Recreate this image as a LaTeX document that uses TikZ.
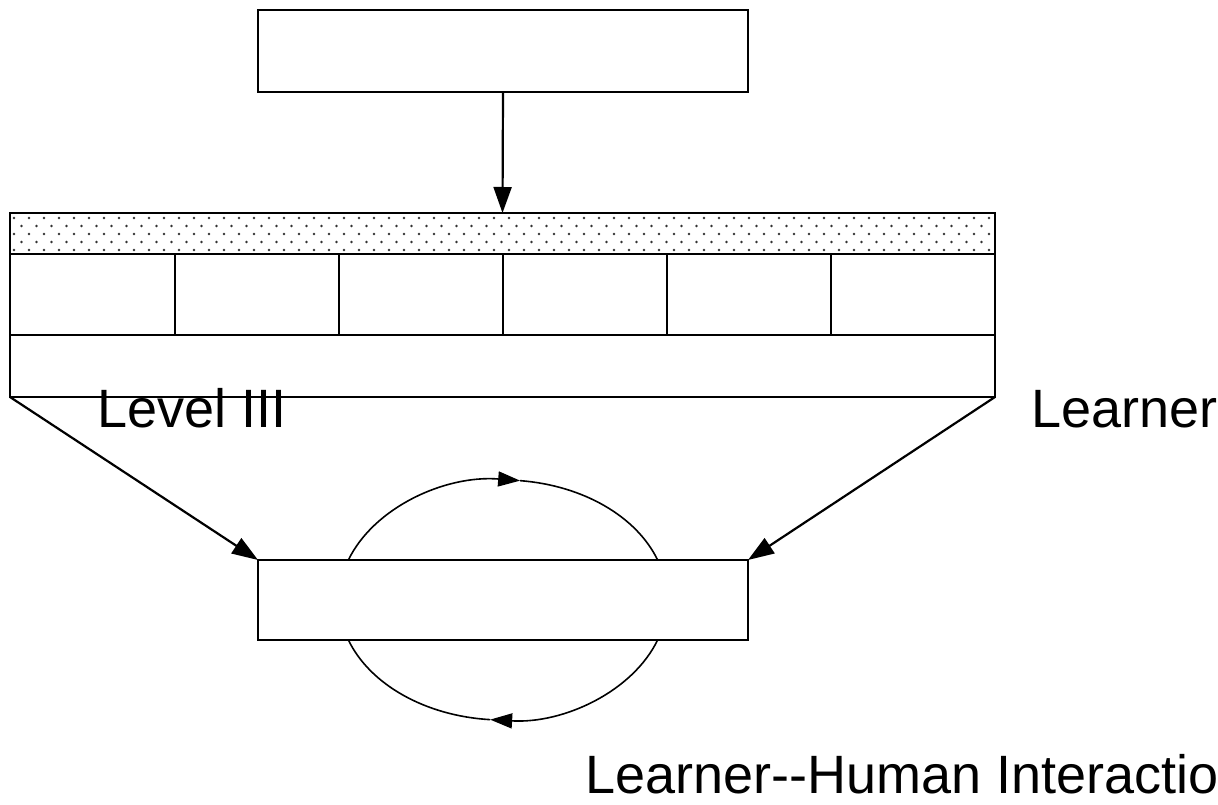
\documentclass[tikz,border=0pt]{standalone}
\usepackage{fontspec}
\setmainfont{Liberation Sans}[Ligatures=TeXOff]
\usetikzlibrary{arrows.meta}
\begin{document}
\begin{tikzpicture}[x=1pt,y=1pt,
  box/.style={draw=black,line width=2.8pt,fill=white,inner sep=0pt,outer sep=0pt},
  conn/.style={line width=2.2pt,-{Triangle[length=26pt,width=18pt]}},
  loop/.style={line width=1.6pt},
  looptip/.style={line width=1.6pt,-{Triangle[length=22pt,width=15pt]}},
  lbl/.style={font=\fontsize{54}{60}\selectfont,inner sep=0pt,anchor=base west}]
\useasboundingbox (0,0) rectangle (1218,804);
\clip (0,0) rectangle (1218,804);
\fill[white] (0,0) rectangle (1218,804);
% top box
\node[box,minimum width=490pt,minimum height=82pt] (top) at (503,753) {};
% dotted band
\node[box,minimum width=985pt,minimum height=41pt,anchor=north west] (band) at (10,591) {};
\begin{scope}
  \clip (10,550) rectangle (995,591);
  \foreach \r in {0,...,5} {
    \pgfmathsetmacro{\yy}{554+8*\r}
    \pgfmathsetmacro{\off}{mod(\r,2)*7.5}
    \foreach \c in {0,...,66} {
      \fill[black!80] (14+\off+15*\c,\yy) circle (1.3pt);
    }
  }
\end{scope}
\draw[line width=2.8pt] (band.north west) rectangle (band.south east);
% cells
\foreach \i [count=\k] in {10,175,339,503,667,831} {
  \pgfmathsetmacro{\w}{(\k==1)?165:164}
  \node[box,minimum width=\w pt,minimum height=81pt,anchor=north west] (c\k) at (\i,550) {};
}
% bottom row
\node[box,minimum width=985pt,minimum height=62pt,anchor=north west] (row) at (10,469) {};
% bottom box
\node[box,minimum width=490pt,minimum height=80pt] (bot) at (503,204) {};
% connectors
\draw[conn] (top.south) -- (band.north);
\draw[conn] (row.south west) -- (bot.north west);
\draw[conn] (row.south east) -- (bot.north east);
% loop arcs
\coordinate (ec) at (503,204);
\draw[looptip] ([shift={(160.53:164pt and 120pt)}]ec) arc[start angle=160.53,end angle=84,x radius=164pt,y radius=120pt];
\draw[loop] ([shift={(84:164pt and 120pt)}]ec) arc[start angle=84,end angle=19.47,x radius=164pt,y radius=120pt];
\draw[looptip] ([shift={(-19.47:164pt and 120pt)}]ec) arc[start angle=-19.47,end angle=-94.5,x radius=164pt,y radius=120pt];
\draw[loop] ([shift={(-94.5:164pt and 120pt)}]ec) arc[start angle=-94.5,end angle=-160.53,x radius=164pt,y radius=120pt];
% labels
\node[lbl] (l1) at (97,376) {Level III};
\node[lbl] (l2) at (1031,376) {Learner};
\node[lbl] (l3) at (585,11) {Learner--Human Interactio};
\end{tikzpicture}
\end{document}
